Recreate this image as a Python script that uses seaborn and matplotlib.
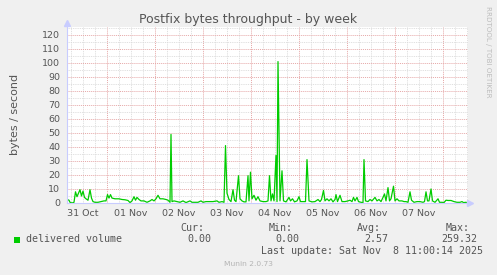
import matplotlib
matplotlib.use("Agg")
import matplotlib.pyplot as plt
from matplotlib.ticker import MultipleLocator, FuncFormatter, FixedLocator
import seaborn as sns
import pandas as pd

# hours relative to 01 Nov 00:00
hours = [-20, -19, -18.5, -17.5, -16.5, -15.75, -15, -14.25, -13.5, -12.75, -12, -11.25, -10.5,
         -9.5, -8.5, -7.75, -7, -6, -4.5, -3, -1.5, -0.5, 0.25, 1, 1.75, 2.5, 4, 6, 7.5, 9, 10.5,
         11.5, 12.5, 13.5, 14.25, 15, 16, 17, 18.5, 20, 21.5, 22.5, 23.5, 24.5, 25.5, 26.5, 28,
         29.5, 30.5, 31.5, 32, 32.5, 33.5, 35, 36.5, 38, 39.5, 41.5, 42.5, 44, 45.5, 47, 48, 49.5,
         51, 53, 55, 56, 57.5, 58.5, 59.25, 60, 61, 62, 63, 63.75, 64.5, 65.75, 66.5, 67.5, 68.5,
         69.5, 70.5, 71, 71.75, 72.5, 73.5, 74.5, 75.5, 76.5, 78, 79.5, 80.5, 81.25, 82, 82.75,
         83.5, 84.5, 85, 85.5, 86.5, 87.5, 88.25, 89.5, 91, 91.75, 92.75, 93.75, 95, 96, 96.75,
         98, 99.25, 100, 101, 102.5, 104, 105.5, 106.5, 107.25, 108.25, 109, 110, 111, 112, 113,
         114, 114.5, 115.25, 116.5, 117.5, 119, 120.5, 121.5, 122.5, 123.25, 124, 125, 125.75,
         127, 128, 128.5, 129.25, 130.5, 131.5, 132.5, 134, 135, 136, 137, 138, 138.75, 139.5,
         140.5, 141.25, 142, 143.25, 144, 145, 146, 147.5, 148.5, 149.5, 150.5, 151.5, 152.25,
         153.5, 155, 156.5, 158, 158.75, 159.5, 160.25, 161, 162, 162.75, 164, 165.5, 166.25,
         167.5, 168.5, 169.5, 170.5, 172, 173.5, 175, 176.5, 177.5, 178.25, 179.5, 180.5]
values = [2.5, 2, 0.5, 0, 0.5, 8, 4.5, 7, 9.5, 5, 8.5, 4, 3,
          2, 9.5, 3.5, 1, 0.5, 0.5, 1, 1.5, 1.5, 6, 3.5, 6, 3.5, 3, 3, 2.5, 2.3, 1.8,
          0.3, 1.5, 4.5, 2, 4, 2.5, 1.5, 1.5, 0.5, 1.5, 2.5, 1.5, 3, 5.5, 3, 3,
          2.5, 2, 0.5, 49, 1, 1.5, 1, 0.5, 1.5, 0.3, 1.5, 0.5, 0.5, 0.5, 1.5, 0.5, 1,
          1, 1, 1.5, 0.5, 1, 0.5, 41, 7, 2.5, 1, 9.5, 2, 1, 19.5, 3, 1.5, 0.8,
          0.8, 19.5, 1.5, 22, 3, 5.5, 2, 4.5, 1.5, 1, 1, 1.5, 19.5, 1.5, 6.5,
          1.5, 34, 1, 101, 1.5, 23, 1.5, 0.8, 4, 1.5, 3, 0.8, 1.5, 4.5, 1,
          1, 1, 31, 1.5, 0.8, 1, 2.5, 1, 2.5, 9, 1.5, 3, 1.5, 3, 0.8,
          2.5, 6, 1, 5.5, 1, 1, 1.5, 2, 1, 4, 1.5, 4, 1,
          0.5, 0.3, 31, 1.5, 1, 2.5, 1.5, 4, 1.5, 2.5, 1, 4, 6.5, 1.5,
          11, 1.5, 3, 12, 1.5, 3, 1.5, 1.5, 1, 1, 0.5, 8, 2,
          0.5, 1, 1, 0.5, 1, 8, 1.5, 1.5, 10, 1.5, 0.5, 3, 0.5,
          0.5, 0.3, 2, 1.8, 1.8, 1, 0.5, 0.5, 1, 0.3, 0.5, 0]

day_labels = ["31 Oct", "01 Nov", "02 Nov", "03 Nov", "04 Nov", "05 Nov", "06 Nov", "07 Nov"]
y_ticks = [0, 10, 20, 30, 40, 50, 60, 70, 80, 90, 100, 110, 120]
series_name = "delivered volume"
stats_cur, stats_min, stats_avg, stats_max = "0.00", "0.00", "2.57", "259.32"

sns.set_style("white")
plt.rcParams["font.family"] = ["DejaVu Sans"]

W, H = 497, 275
fig = plt.figure(figsize=(W / 100, H / 100), dpi=100, facecolor="#f0f0f0")
ax = fig.add_axes([67 / W, (H - 203) / H, 401 / W, 176 / H])
ax.set_facecolor("white")

df = pd.DataFrame({"hour": hours, "value": values})
sns.lineplot(data=df, x="hour", y="value", ax=ax, color="#00cc00", linewidth=0.9, sort=False)

ax.set_xlim(-20, 180.5)
ax.set_ylim(0, 125.7)

ax.yaxis.set_major_locator(FixedLocator(y_ticks))
ax.yaxis.set_minor_locator(MultipleLocator(5))
ax.xaxis.set_major_locator(MultipleLocator(24))
ax.xaxis.set_minor_locator(MultipleLocator(6))

def xlab(h, pos):
    if int(round(h)) % 24 == 12:
        idx = int(round((h + 12) / 24))
        if 0 <= idx < len(day_labels):
            return day_labels[idx]
    return ""

ax.xaxis.set_major_formatter(FuncFormatter(lambda h, p: ""))
ax.xaxis.set_minor_formatter(FuncFormatter(xlab))

ax.grid(which="major", color="#e6a8a8", linestyle=(0, (1, 1)), linewidth=0.7)
ax.grid(which="minor", color="#dadada", linestyle=(0, (1, 1)), linewidth=0.65)
ax.set_axisbelow(True)

ax.tick_params(axis="both", which="both", length=0, colors="#555555", labelsize=6.8)
ax.tick_params(axis="y", pad=5)
ax.tick_params(axis="x", which="minor", pad=4)

for s in ["top", "right"]:
    ax.spines[s].set_visible(False)
for s in ["left", "bottom"]:
    ax.spines[s].set_color("#c8ccff")
    ax.spines[s].set_linewidth(0.8)
ax.set_xlabel("")
ax.set_ylabel("")

ax.plot([0], [1.02], marker="^", color="#c8ccff", markersize=4, transform=ax.transAxes, clip_on=False)
ax.plot([1.006], [0], marker=">", color="#c8ccff", markersize=4, transform=ax.transAxes, clip_on=False)

def ftext(x, y, s, **kw):
    fig.text(x / W, 1 - y / H, s, **kw)

ftext(248, 19, "Postfix bytes throughput - by week", ha="center", va="center", fontsize=9, color="#555555")
ftext(15, 114, "bytes / second", ha="center", va="center", rotation=90, fontsize=8, color="#555555")
ftext(488, 52, "RRDTOOL / TOBI OETIKER", ha="center", va="center", rotation=270, fontsize=5.1, color="#bcbcbc")

mono = dict(family="DejaVu Sans Mono", fontsize=7.2, color="#555555", va="center")
fig.patches.append(plt.Rectangle((14 / W, 1 - 243 / H), 6 / W, 6 / H, transform=fig.transFigure,
                                 facecolor="#00cc00", edgecolor="none"))
ftext(26, 239.5, series_name, ha="left", **mono)
ftext(204, 228, "Cur:", ha="right", **mono)
ftext(293, 228, "Min:", ha="right", **mono)
ftext(381, 228, "Avg:", ha="right", **mono)
ftext(470, 228, "Max:", ha="right", **mono)
ftext(211, 239.5, stats_cur, ha="right", **mono)
ftext(299, 239.5, stats_min, ha="right", **mono)
ftext(388, 239.5, stats_avg, ha="right", **mono)
ftext(477, 239.5, stats_max, ha="right", **mono)
ftext(483, 251.5, "Last update: Sat Nov  8 11:00:14 2025", ha="right", **mono)
ftext(248, 263.5, "Munin 2.0.73", ha="center", va="center", fontsize=5.4, color="#b4b4b4")

fig.savefig("out.png", dpi=100, facecolor=fig.get_facecolor())
